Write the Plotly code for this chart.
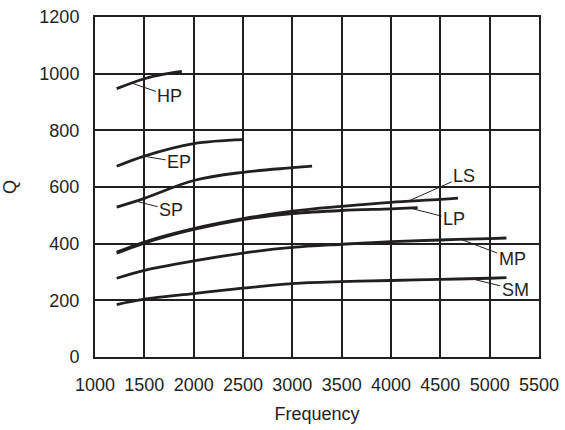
import plotly.graph_objects as go

# ---- data ----
hp_x = [1220, 1500, 1700, 1880]
hp_y = [947, 982, 998, 1008]

ep_x = [1220, 1500, 2000, 2500]
ep_y = [673, 709, 753, 767]

sp_x = [1220, 1500, 2000, 2500, 3000, 3200]
sp_y = [529, 560, 623, 652, 668, 674]

ls_x = [1220, 1500, 2000, 2500, 3000, 3500, 4000, 4500, 4680]
ls_y = [370, 406, 453, 488, 515, 532, 546, 556, 561]

lp_x = [1220, 1500, 2000, 2500, 3000, 3500, 4000, 4270]
lp_y = [366, 402, 450, 485, 506, 517, 523, 527]

mp_x = [1220, 1500, 2000, 2500, 3000, 3500, 4000, 4500, 5000, 5170]
mp_y = [278, 306, 339, 367, 387, 398, 407, 413, 418, 420]

sm_x = [1220, 1500, 2000, 2500, 3000, 3500, 4000, 4500, 5000, 5170]
sm_y = [185, 204, 224, 243, 259, 266, 270, 274, 278, 280]

series = [("HP", hp_x, hp_y), ("EP", ep_x, ep_y), ("SP", sp_x, sp_y),
          ("LS", ls_x, ls_y), ("LP", lp_x, lp_y), ("MP", mp_x, mp_y),
          ("SM", sm_x, sm_y)]

# label: (tip x, tip y, text x, text y)
labels = {
    "HP": (1372, 967, 1760, 920),
    "EP": (1490, 709, 1852, 688),
    "SP": (1406, 551, 1771, 518),
    "LS": (4194, 553, 4742, 638),
    "LP": (4211, 524, 4640, 486),
    "MP": (4718, 414, 5228, 347),
    "SM": (4853, 273, 5259, 238),
}

x_ticks = [1000, 1500, 2000, 2500, 3000, 3500, 4000, 4500, 5000, 5500]
y_ticks = [0, 200, 400, 600, 800, 1000, 1200]

FONT = "Liberation Sans Narrow, Arial Narrow, Liberation Sans, Arial, sans-serif"
INK = "#231f20"
FS = 18

fig = go.Figure()
for name, xs, ys in series:
    fig.add_trace(go.Scatter(x=xs, y=ys, mode="lines", name=name,
                             line=dict(color=INK, width=2.8, shape="spline"),
                             showlegend=False, hoverinfo="skip"))

for name, (tx, ty, lx, ly) in labels.items():
    fig.add_annotation(x=tx, y=ty, ax=lx, ay=ly, axref="x", ayref="y",
                       xref="x", yref="y", text=name, showarrow=True,
                       arrowhead=0, arrowwidth=1, arrowcolor=INK, standoff=0,
                       font=dict(family=FONT, size=FS, color=INK),
                       borderpad=1)

fig.update_layout(
    width=565, height=430,
    margin=dict(l=95, r=26, t=17, b=73),
    paper_bgcolor="white", plot_bgcolor="white",
    font=dict(family=FONT, size=FS, color=INK),
)
fig.update_xaxes(range=[1000, 5500], tickvals=x_ticks, ticktext=[str(v) for v in x_ticks],
                 tickangle=0, automargin=False,
                 showgrid=True, gridcolor=INK, gridwidth=2, zeroline=False,
                 showline=True, linecolor=INK, linewidth=2, mirror=True,
                 ticks="", ticklabelstandoff=10,
                 title=dict(text="Frequency", standoff=14,
                            font=dict(family=FONT, size=FS, color=INK)))
fig.update_yaxes(range=[0, 1200], tickvals=y_ticks, ticktext=[str(v) for v in y_ticks],
                 automargin=False,
                 showgrid=True, gridcolor=INK, gridwidth=2, zeroline=False,
                 showline=True, linecolor=INK, linewidth=2, mirror=True,
                 ticks="", ticklabelstandoff=10,
                 title=dict(text="Q", standoff=19,
                            font=dict(family=FONT, size=FS, color=INK)))

fig.write_html("out.html", config={"displayModeBar": False},
               post_script="document.body.style.margin='0';document.body.style.overflow='hidden';")
